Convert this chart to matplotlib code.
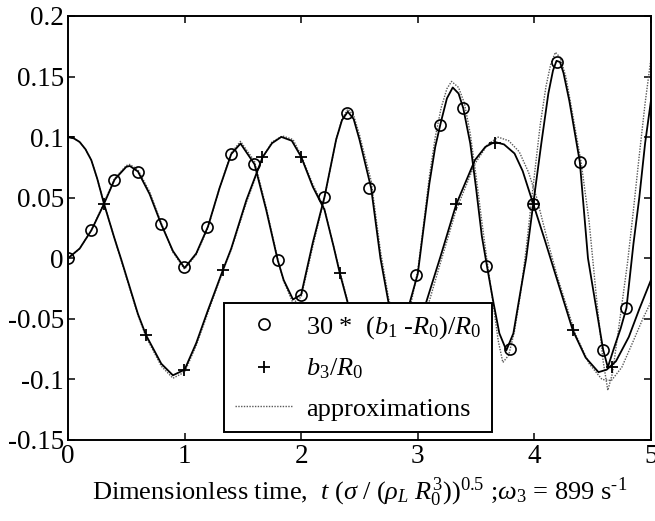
import matplotlib
matplotlib.use("Agg")
import matplotlib.pyplot as plt
from matplotlib.ticker import FormatStrFormatter

plt.rcParams["font.family"] = ["Liberation Serif", "DejaVu Serif"]
plt.rcParams["mathtext.fontset"] = "custom"
plt.rcParams["mathtext.rm"] = "Liberation Serif"
plt.rcParams["mathtext.it"] = "Liberation Serif:italic"
plt.rcParams["axes.unicode_minus"] = False

# --- data ---
# b1 (scaled 30*(b1-R0)/R0), solid curve
b1_x = [0, 0.1, 0.2, 0.3, 0.4, 0.5, 0.53, 0.6, 0.7, 0.8, 0.9, 1.0, 1.1, 1.2, 1.3,
        1.4, 1.48, 1.6, 1.7, 1.8, 1.85, 1.93, 2.0, 2.1, 2.2, 2.3, 2.35, 2.4, 2.45,
        2.5, 2.6, 2.68, 2.75, 2.84, 2.93, 3.0, 3.05, 3.1, 3.15, 3.2, 3.25, 3.3,
        3.35, 3.39, 3.45, 3.5, 3.55, 3.6, 3.65, 3.7, 3.76, 3.82, 3.88, 3.93, 3.99,
        4.06, 4.12, 4.16, 4.19, 4.22, 4.25, 4.3, 4.39, 4.46, 4.52, 4.59, 4.63,
        4.68, 4.74, 4.79, 4.85, 4.9, 4.95, 5.0]
b1_y = [0.000, 0.008, 0.023, 0.043, 0.065, 0.0755, 0.0762, 0.0716, 0.053, 0.028,
        0.006, -0.008, 0.004, 0.026, 0.058, 0.086, 0.0947, 0.0776, 0.040, -0.002,
        -0.018, -0.034, -0.030, 0.013, 0.0506, 0.098, 0.114, 0.121, 0.115, 0.098,
        0.058, 0.0, -0.037, -0.062, -0.037, -0.013, 0.025, 0.062, 0.092, 0.113,
        0.132, 0.141, 0.136, 0.124, 0.095, 0.058, 0.018, -0.010, -0.037, -0.062,
        -0.076, -0.062, -0.028, 0.0, 0.0446, 0.095, 0.136, 0.155, 0.163, 0.162,
        0.153, 0.130, 0.0795, 0.0, -0.035, -0.0754, -0.090, -0.075, -0.058,
        -0.041, 0.012, 0.05, 0.095, 0.13]

# b3/R0, solid curve
b3_x = [0, 0.05, 0.1, 0.15, 0.2, 0.25, 0.31, 0.4, 0.46, 0.6, 0.67, 0.8, 0.9, 1.0,
        1.1, 1.2, 1.33, 1.4, 1.53, 1.67, 1.75, 1.83, 1.92, 2.0, 2.1, 2.2, 2.28,
        2.33, 2.4, 2.5, 2.6, 2.74, 2.9, 3.0, 3.07, 3.2, 3.33, 3.49, 3.58, 3.66,
        3.74, 3.83, 3.9, 3.98, 4.09, 4.18, 4.33, 4.44, 4.55, 4.62, 4.7, 4.81, 4.9,
        5.0]
b3_y = [0.100, 0.099, 0.096, 0.090, 0.081, 0.066, 0.0446, 0.016, -0.002, -0.046,
        -0.0636, -0.087, -0.0966, -0.092, -0.070, -0.043, -0.0094, 0.008, 0.048,
        0.0837, 0.095, 0.1002, 0.097, 0.0837, 0.059, 0.040, 0.009, -0.0118,
        -0.037, -0.068, -0.087, -0.095, -0.085, -0.060, -0.037, 0.003, 0.0446,
        0.081, 0.092, 0.096, 0.094, 0.0865, 0.072, 0.048, 0.015, -0.013, -0.0595,
        -0.082, -0.094, -0.092, -0.085, -0.065, -0.042, -0.018]

# approximations (dotted)
b1a_x = [0, 0.1, 0.2, 0.3, 0.4, 0.5, 0.53, 0.6, 0.7, 0.8, 0.9, 1.0, 1.1, 1.2, 1.3,
         1.4, 1.48, 1.6, 1.7, 1.8, 1.85, 1.93, 2.0, 2.1, 2.2, 2.3, 2.35, 2.4,
         2.45, 2.5, 2.6, 2.68, 2.75, 2.84, 2.93, 3.0, 3.05, 3.1, 3.15, 3.2, 3.25,
         3.29, 3.35, 3.4, 3.45, 3.5, 3.55, 3.6, 3.65, 3.69, 3.73, 3.78, 3.83,
         3.88, 3.93, 3.99, 4.05, 4.1, 4.14, 4.18, 4.22, 4.27, 4.33, 4.4, 4.47,
         4.53, 4.59, 4.63, 4.67, 4.72, 4.8, 4.85, 4.9, 4.95, 5.0]
b1a_y = [0, 0.008, 0.023, 0.044, 0.066, 0.0765, 0.0775, 0.073, 0.055, 0.029,
         0.005, -0.009, 0.003, 0.025, 0.058, 0.087, 0.0965, 0.080, 0.042, -0.001,
         -0.019, -0.037, -0.032, 0.010, 0.050, 0.098, 0.115, 0.123, 0.118, 0.102,
         0.064, 0.006, -0.033, -0.068, -0.043, -0.010, 0.028, 0.068, 0.100, 0.124,
         0.140, 0.146, 0.141, 0.128, 0.103, 0.068, 0.030, -0.006, -0.040, -0.068,
         -0.086, -0.080, -0.060, -0.030, 0.008, 0.060, 0.110, 0.142, 0.160, 0.170,
         0.166, 0.150, 0.118, 0.080, 0.030, -0.030, -0.085, -0.109, -0.095,
         -0.060, -0.003, 0.04, 0.085, 0.128, 0.165]

b3a_x = [0, 0.05, 0.1, 0.15, 0.2, 0.25, 0.31, 0.4, 0.46, 0.6, 0.67, 0.8, 0.9, 1.0,
         1.1, 1.2, 1.33, 1.4, 1.53, 1.67, 1.75, 1.84, 1.93, 2.0, 2.1, 2.2, 2.28,
         2.33, 2.4, 2.5, 2.6, 2.76, 2.9, 3.0, 3.1, 3.2, 3.33, 3.49, 3.6, 3.69,
         3.78, 3.87, 3.95, 4.02, 4.12, 4.2, 4.35, 4.47, 4.58, 4.66, 4.75, 4.85,
         4.93, 5.0]
b3a_y = [0.100, 0.099, 0.096, 0.090, 0.081, 0.066, 0.045, 0.016, -0.003, -0.047,
         -0.065, -0.089, -0.099, -0.094, -0.072, -0.045, -0.010, 0.007, 0.046,
         0.083, 0.096, 0.101, 0.098, 0.085, 0.061, 0.041, 0.009, -0.010, -0.036,
         -0.069, -0.089, -0.098, -0.089, -0.066, -0.035, -0.002, 0.040, 0.078,
         0.094, 0.100, 0.097, 0.088, 0.071, 0.050, 0.012, -0.016, -0.062, -0.087,
         -0.100, -0.101, -0.090, -0.068, -0.05, -0.036]

# sampled points (markers)
b1_mark_x = [0, 0.195, 0.394, 0.598, 0.795, 0.995, 1.19, 1.395, 1.595, 1.80, 1.995,
             2.195, 2.395, 2.584, 2.79, 2.985, 3.19, 3.39, 3.585, 3.79, 3.99, 4.19,
             4.39, 4.59, 4.79]
b1_mark_y = [0.0, 0.023, 0.065, 0.0716, 0.028, -0.0072, 0.026, 0.086, 0.0776,
             -0.0017, -0.030, 0.0506, 0.120, 0.058, -0.055, -0.0135, 0.110, 0.124,
             -0.006, -0.0746, 0.0446, 0.162, 0.0795, -0.0754, -0.0407]
b3_mark_x = [0, 0.31, 0.669, 0.995, 1.33, 1.66, 2.0, 2.33, 2.667, 3.0, 3.33, 3.66,
             4.0, 4.33, 4.667]
b3_mark_y = [0.1, 0.0446, -0.0636, -0.092, -0.0094, 0.0837, 0.0837, -0.0118, -0.092,
             -0.06, 0.0446, 0.0953, 0.045, -0.0595, -0.09]

xticks = [0, 1, 2, 3, 4, 5]
yticks = [-0.15, -0.1, -0.05, 0, 0.05, 0.1, 0.15, 0.2]

fig = plt.figure(figsize=(6.55, 5.21), dpi=100)
ax = fig.add_axes([0.1038, 0.1555, 0.890, 0.8138])

dot = dict(color="0.35", lw=1.0, ls=(0, (1, 1)))
ax.plot(b1a_x, b1a_y, **dot, label="approximations")
ax.plot(b3a_x, b3a_y, **dot)
ax.plot(b1_x, b1_y, color="black", lw=1.3)
ax.plot(b3_x, b3_y, color="black", lw=1.3)
ax.plot(b1_mark_x, b1_mark_y, ls="none", marker="o", ms=8, mfc="none", mec="black",
        mew=1.2, label=r"30 *  $\mathit{(b_1\ \text{-}R_0)/R_0}$")
ax.plot(b3_mark_x, b3_mark_y, ls="none", marker="+", ms=9, mec="black", mew=1.3,
        label=r"$\mathit{b_3/R_0}$")

ax.set_xlim(0, 5)
ax.set_ylim(-0.15, 0.2)
ax.set_xticks(xticks)
ax.set_yticks(yticks)
ax.yaxis.set_major_formatter(FormatStrFormatter("%g"))
ax.tick_params(direction="in", length=5, width=1.1, top=True, right=True,
               labelsize=19.5, pad=3)
for s in ax.spines.values():
    s.set_linewidth(1.4)

ax.set_xlabel(r"Dimensionless time,  $\mathit{t\ (\sigma\ /\ (\rho_L\ R_0^3))^{0.5}}$"
              r" ;$\mathit{\omega_3}$ = 899 s$^{\mathrm{\text{-}1}}$", fontsize=19,
              labelpad=5)

h, l = ax.get_legend_handles_labels()
order = [1, 2, 0]
leg = ax.legend([h[i] for i in order], [l[i] for i in order],
                loc="upper left", bbox_to_anchor=(0.2676, 0.323), fontsize=19,
                frameon=True, fancybox=False, framealpha=1, edgecolor="black",
                borderpad=0.42, labelspacing=0.6, handlelength=2.2,
                handletextpad=0.5, borderaxespad=0)
leg.get_frame().set_linewidth(1.4)

fig.savefig("out.png", dpi=100)
